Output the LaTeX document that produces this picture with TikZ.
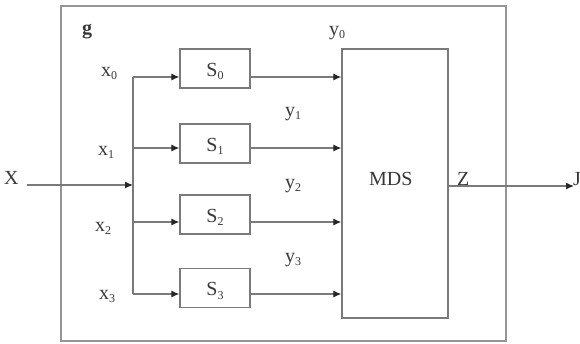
\documentclass[tikz,border=0pt]{standalone}
\usepackage{fontspec}
\setmainfont{Liberation Serif}
\usetikzlibrary{arrows.meta}
\definecolor{ln}{HTML}{7A7A7A}
\definecolor{tx}{HTML}{383838}
\newcommand\sbs[1]{\raisebox{-0.35ex}{\fontsize{12}{12}\selectfont #1}}
\newcommand\slbl[1]{\raisebox{-3pt}[\height][\depth]{S\sbs{#1}}}
\begin{document}
\begin{tikzpicture}[x=1pt,y=-1pt,
  lbl/.style={text=tx,font=\fontsize{20}{20}\selectfont,inner sep=0pt,anchor=base west},
  sbox/.style={draw=ln,line width=1.3pt,minimum width=70pt,minimum height=39pt,inner sep=0pt,text=tx,font=\fontsize{20}{20}\selectfont},
  conn/.style={draw=ln,line width=1.2pt},
  arr/.style={conn,-{Latex[length=8pt,width=7pt,color=black!85]}}]
\useasboundingbox (0,0) rectangle (580,343);
\draw[draw=ln!80,line width=1.8pt] (61,6) rectangle (506,341);
\node[lbl,font=\fontsize{20}{20}\selectfont\bfseries] (g) at (82,34) {g};
% S boxes
\node[sbox] (S0) at (215,68.5) {\slbl{0}};
\node[sbox] (S1) at (215,143.5) {\slbl{1}};
\node[sbox] (S2) at (215,214.5) {\slbl{2}};
\node[sbox] (S3) at (215,288) {\slbl{3}};
\node[draw=ln,line width=1.3pt,minimum width=106pt,minimum height=269pt,inner sep=0pt] (M) at (395,183.5) {};
\node[lbl] (mds) at (369,185) {MDS};
% labels
\node[lbl] (X) at (4,184) {X};
\node[lbl] (x0) at (101,76) {x\sbs{0}};
\node[lbl] (x1) at (98,155) {x\sbs{1}};
\node[lbl] (x2) at (95,231) {x\sbs{2}};
\node[lbl] (x3) at (99,299) {x\sbs{3}};
\node[lbl] (y0) at (329,35) {y\sbs{0}};
\node[lbl] (y1) at (285,116) {y\sbs{1}};
\node[lbl] (y2) at (285,188) {y\sbs{2}};
\node[lbl] (y3) at (285,262) {y\sbs{3}};
\node[lbl] (Z) at (457,185) {Z};
\node[lbl] (J) at (573,185) {J};
% bus coordinates
\coordinate (xin) at (27,185);
\coordinate (b0) at (133,77);
\coordinate (b1) at (133,148);
\coordinate (bx) at (133,185);
\coordinate (b2) at (133,222);
\coordinate (b3) at (133,294);
\coordinate (out) at (574,186);
\draw[arr] (xin) -- (bx);
\draw[conn] (b0) -- (b3);
\draw[arr] (b0) -- (b0 -| S0.west);
\draw[arr] (b1) -- (b1 -| S1.west);
\draw[arr] (b2) -- (b2 -| S2.west);
\draw[arr] (b3) -- (b3 -| S3.west);
\draw[arr] (b0 -| S0.east) -- (b0 -| M.west);
\draw[arr] (b1 -| S1.east) -- (b1 -| M.west);
\draw[arr] (b2 -| S2.east) -- (b2 -| M.west);
\draw[arr] (b3 -| S3.east) -- (b3 -| M.west);
\draw[arr] (out -| M.east) -- (out);
\end{tikzpicture}
\end{document}
